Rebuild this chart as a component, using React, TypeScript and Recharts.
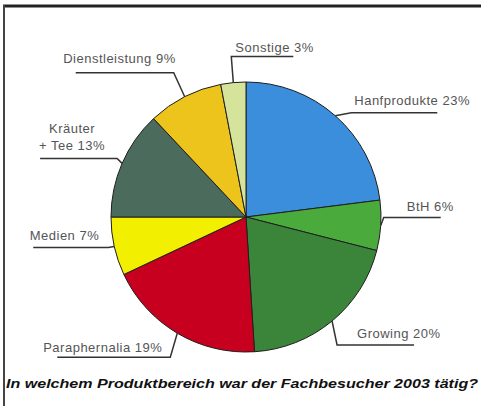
import React from 'react';
import { PieChart, Pie, Cell } from 'recharts';

const categories = ['Hanfprodukte', 'BtH', 'Growing', 'Paraphernalia', 'Medien', 'Kräuter + Tee', 'Dienstleistung', 'Sonstige'];
const shares = [23, 6, 20, 19, 7, 13, 9, 3];
const sliceColors = ['#3a8edb', '#4aab3c', '#3a853a', '#c8001f', '#f3ef00', '#4b6b5d', '#edc41c', '#d5e49a'];
const chartTitle = 'In welchem Produktbereich war der Fachbesucher 2003 tätig?';

const data = categories.map((name, i) => ({ name, value: shares[i] }));

// leader line layout per slice: elbow offset from slice edge, underline run,
// text offset from elbow and text anchor
const labelLayout = [
  { dx: 16, dy: -3, run: 86, tx: 3, ty: -8, anchor: 'start' },
  { dx: 3, dy: -8, run: 57, tx: 23, ty: -6, anchor: 'start' },
  { dx: 5, dy: 24, run: 77, tx: 20, ty: -7, anchor: 'start' },
  { dx: -7, dy: 24, run: -113, tx: -8, ty: -5, anchor: 'end' },
  { dx: -6, dy: 1, run: -75, tx: -9, ty: -7, anchor: 'end' },
  { dx: -5, dy: -5, run: -77, tx: -45, ty: -8, anchor: 'middle' },
  { dx: -11, dy: -24, run: -98, tx: 2, ty: -10, anchor: 'end' },
  { dx: -2, dy: -26, run: 62, tx: 4, ty: -5, anchor: 'start' },
];

const RAD = Math.PI / 180;

function renderLabel(props: any) {
  const { cx, cy, midAngle, outerRadius, index, name, value } = props;
  const l = labelLayout[index];
  const ax = cx + outerRadius * Math.cos(-midAngle * RAD);
  const ay = cy + outerRadius * Math.sin(-midAngle * RAD);
  const ex = ax + l.dx;
  const ey = ay + l.dy;
  const fx = ex + l.run;
  const textStyle = { fontFamily: '"Liberation Sans", Arial, sans-serif', fontSize: 13, letterSpacing: 0.5, fill: '#555' };
  const label = `${name} ${value}%`;
  const isKraeuter = name.startsWith('Kräuter');
  return (
    <g key={`lbl-${index}`}>
      <polyline points={`${ax},${ay} ${ex},${ey} ${fx},${ey}`} fill="none" stroke="#333" strokeWidth={1.5} />
      {isKraeuter ? (
        <text x={ex + l.tx} y={ey + l.ty} textAnchor={l.anchor} style={textStyle}>
          <tspan x={ex + l.tx} dy={-17}>Kräuter</tspan>
          <tspan x={ex + l.tx} dy={17}>+ Tee {value}%</tspan>
        </text>
      ) : (
        <text x={ex + l.tx} y={ey + l.ty} textAnchor={l.anchor} style={textStyle}>
          {label}
        </text>
      )}
    </g>
  );
}

export default function App() {
  return (
    <div style={{ position: 'absolute', left: 0, top: 0, width: 481, height: 406, background: '#fff' }}>
      <PieChart width={481} height={406}>
        <Pie
          data={data}
          dataKey="value"
          nameKey="name"
          cx={241}
          cy={212}
          outerRadius={135}
          startAngle={90}
          endAngle={-270}
          stroke="#1e1e1e"
          strokeWidth={1}
          labelLine={false}
          label={renderLabel}
          isAnimationActive={false}
        >
          {data.map((entry, index) => (
            <Cell key={`cell-${index}`} fill={sliceColors[index % sliceColors.length]} />
          ))}
        </Pie>
      </PieChart>
      <svg width={481} height={406} style={{ position: 'absolute', left: 0, top: 0, pointerEvents: 'none' }}>
        <line x1={3} y1={6} x2={481} y2={6} stroke="#222" strokeWidth={3} />
        <line x1={4} y1={5} x2={4} y2={406} stroke="#444" strokeWidth={2} />
        <text
          x={6}
          y={388}
          textLength={472}
          lengthAdjust="spacingAndGlyphs"
          style={{ fontFamily: '"Liberation Sans", Arial, sans-serif', fontSize: 13, fontWeight: 900, fontStyle: 'italic', fill: '#111' }}
        >
          {chartTitle}
        </text>
      </svg>
    </div>
  );
}
